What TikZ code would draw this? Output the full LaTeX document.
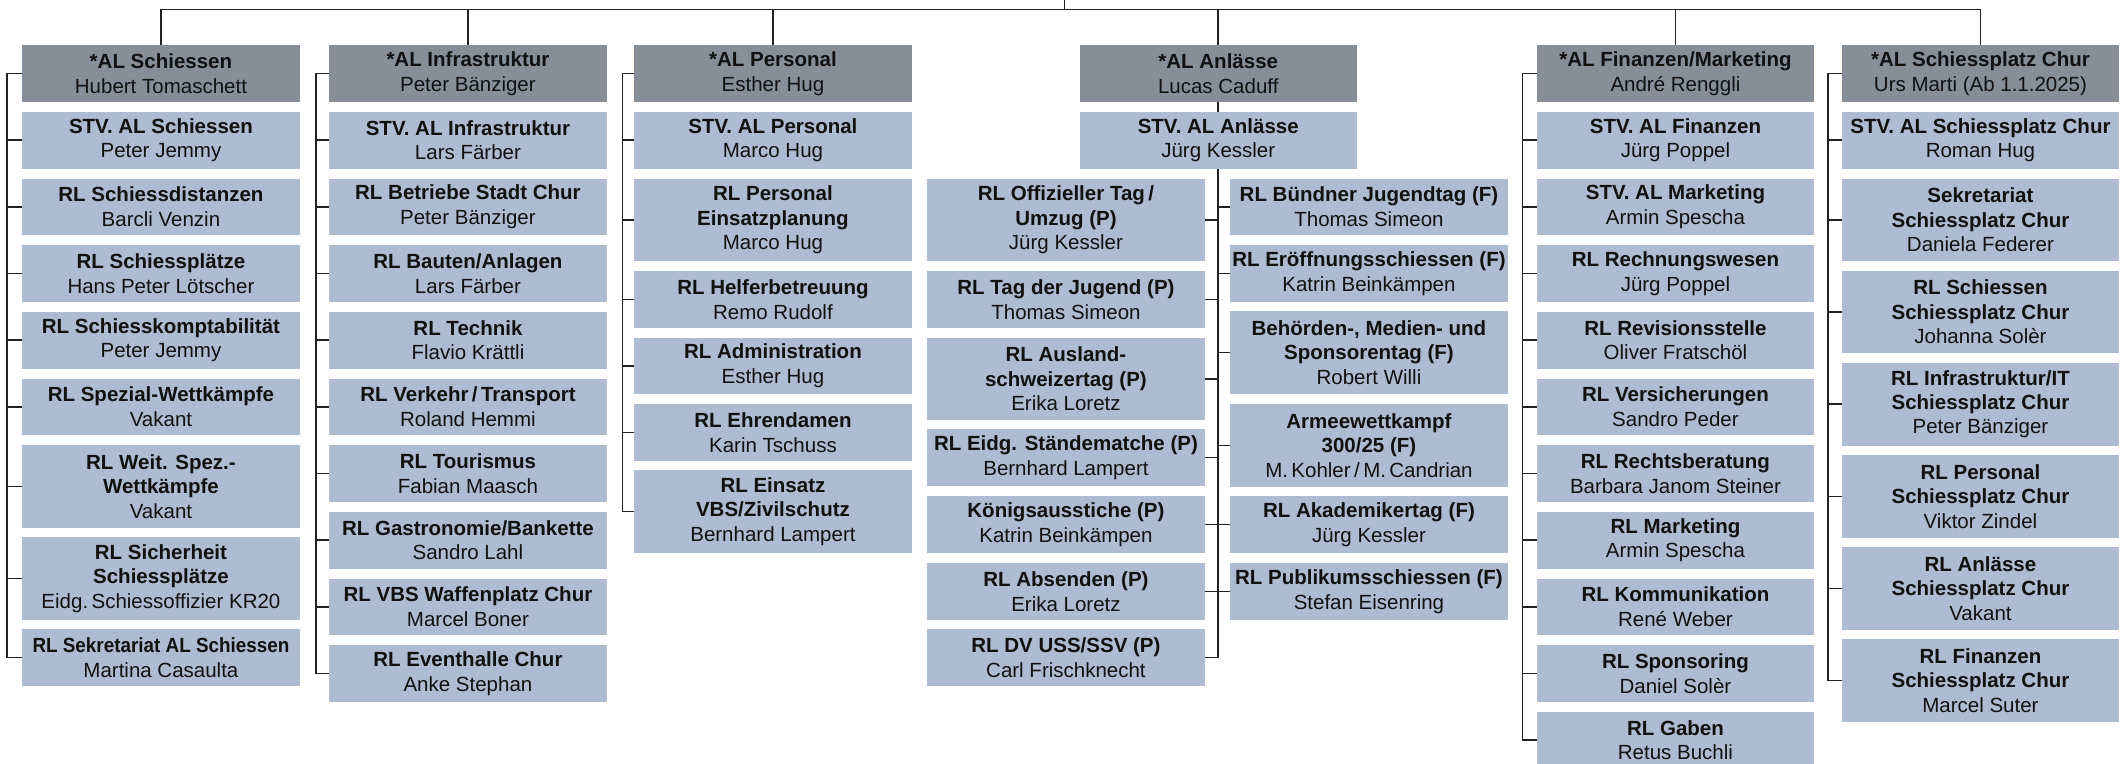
\documentclass[tikz,border=0pt]{standalone}
\usepackage{fontspec}
\usepackage{graphicx}
\setmainfont{Liberation Sans}
\definecolor{headc}{HTML}{868F98}
\definecolor{boxc}{HTML}{ADBCD0}
\definecolor{txt}{HTML}{111111}
\definecolor{linec}{HTML}{222222}
\tikzset{
  box/.style={anchor=north west, inner sep=0pt, minimum width=277.5pt, align=center, text=txt, font=\fontsize{20.5}{24.4}\selectfont},
  head/.style={box, fill=headc, minimum height=56.7pt},
  two/.style={box, fill=boxc, minimum height=56.7pt},
  three/.style={box, fill=boxc, minimum height=82.7pt},
  conn/.style={line width=1.6pt, draw=linec},
}
\begin{document}
\begin{tikzpicture}[x=1pt,y=-1pt]
\useasboundingbox (0,0) rectangle (2125,763);
% ---------- column 1
\node[head] (a1) at (22,45) {\bfseries *AL Schiessen\\Hubert Tomaschett};
\node[two] (a1a) at (22,111.7) {\bfseries STV. AL Schiessen\\Peter Jemmy};
\node[two] (a1b) at (22,178.3) {\bfseries RL Schiessdistanzen\\Barcli Venzin};
\node[two] (a1c) at (22,245) {\bfseries RL Schiessplätze\\Hans Peter Lötscher};
\node[two] (a1d) at (22,311.7) {\bfseries RL Schiesskomptabilität\\Peter Jemmy};
\node[two] (a1e) at (22,378.3) {\bfseries RL Spezial-Wettkämpfe\\Vakant};
\node[three] (a1f) at (22,445) {\bfseries RL Weit. Spez.-\\\bfseries Wettkämpfe\\Vakant};
\node[three] (a1g) at (22,537) {\bfseries RL Sicherheit\\\bfseries Schiessplätze\\Eidg.\,Schiessoffizier KR20};
\node[two] (a1h) at (22,629) {\bfseries\scalebox{0.92}[1]{RL Sekretariat AL Schiessen}\\Martina Casaulta};
% ---------- column 2
\node[head] (a2) at (329,45) {\bfseries *AL Infrastruktur\\Peter Bänziger};
\node[two] (a2a) at (329,111.7) {\bfseries STV. AL Infrastruktur\\Lars Färber};
\node[two] (a2b) at (329,178.3) {\bfseries RL Betriebe Stadt Chur\\Peter Bänziger};
\node[two] (a2c) at (329,245) {\bfseries RL Bauten/Anlagen\\Lars Färber};
\node[two] (a2d) at (329,311.7) {\bfseries RL Technik\\Flavio Krättli};
\node[two] (a2e) at (329,378.3) {\bfseries RL Verkehr\,/\,Transport\\Roland Hemmi};
\node[two] (a2f) at (329,445) {\bfseries RL Tourismus\\Fabian Maasch};
\node[two] (a2g) at (329,511.7) {\bfseries RL Gastronomie/Bankette\\Sandro Lahl};
\node[two] (a2h) at (329,578.3) {\bfseries RL VBS Waffenplatz Chur\\Marcel Boner};
\node[two] (a2i) at (329,645) {\bfseries RL Eventhalle Chur\\Anke Stephan};
% ---------- column 3
\node[head] (a3) at (634,45) {\bfseries *AL Personal\\Esther Hug};
\node[two] (a3a) at (634,111.7) {\bfseries STV. AL Personal\\Marco Hug};
\node[three] (a3b) at (634,178.3) {\bfseries RL Personal\\\bfseries Einsatzplanung\\Marco Hug};
\node[two] (a3c) at (634,271) {\bfseries RL Helferbetreuung\\Remo Rudolf};
\node[two] (a3d) at (634,337.3) {\bfseries RL Administration\\Esther Hug};
\node[two] (a3e) at (634,404) {\bfseries RL Ehrendamen\\Karin Tschuss};
\node[three] (a3f) at (634,470) {\bfseries RL Einsatz\\\bfseries VBS/Zivilschutz\\Bernhard Lampert};
% ---------- column 4 (Anlaesse)
\node[head] (a4) at (1079.3,45) {\bfseries *AL Anlässe\\Lucas Caduff};
\node[two] (a4s) at (1079.3,111.7) {\bfseries STV. AL Anlässe\\Jürg Kessler};
\node[three] (l1) at (927,178.3) {\bfseries RL Offizieller Tag\,/\\\bfseries Umzug (P)\\Jürg Kessler};
\node[two] (l2) at (927,271) {\bfseries RL Tag der Jugend (P)\\Thomas Simeon};
\node[three] (l3) at (927,337.3) {\bfseries RL Ausland-\\\bfseries schweizertag (P)\\Erika Loretz};
\node[two] (l4) at (927,429) {\bfseries RL Eidg. Ständematche (P)\\Bernhard Lampert};
\node[two] (l5) at (927,496) {\bfseries Königsausstiche (P)\\Katrin Beinkämpen};
\node[two] (l6) at (927,563) {\bfseries RL Absenden (P)\\Erika Loretz};
\node[two] (l7) at (927,629) {\bfseries RL DV USS/SSV (P)\\Carl Frischknecht};
\node[two] (r1) at (1230,178.3) {\bfseries RL Bündner Jugendtag (F)\\Thomas Simeon};
\node[two] (r2) at (1230,245) {\bfseries RL Eröffnungsschiessen (F)\\Katrin Beinkämpen};
\node[three] (r3) at (1230,311) {\bfseries Behörden-, Medien- und\\\bfseries Sponsorentag (F)\\Robert Willi};
\node[three] (r4) at (1230,404) {\bfseries Armeewettkampf\\\bfseries 300/25 (F)\\M.\,Kohler\,/\,M.\,Candrian};
\node[two] (r5) at (1230,496) {\bfseries RL Akademikertag (F)\\Jürg Kessler};
\node[two] (r6) at (1230,563) {\bfseries RL Publikumsschiessen (F)\\Stefan Eisenring};
% ---------- column 5
\node[head] (a5) at (1536.5,45) {\bfseries *AL Finanzen/Marketing\\André Renggli};
\node[two] (a5a) at (1536.5,111.7) {\bfseries STV. AL Finanzen\\Jürg Poppel};
\node[two] (a5b) at (1536.5,178.3) {\bfseries STV. AL Marketing\\Armin Spescha};
\node[two] (a5c) at (1536.5,245) {\bfseries RL Rechnungswesen\\Jürg Poppel};
\node[two] (a5d) at (1536.5,311.7) {\bfseries RL Revisionsstelle\\Oliver Fratschöl};
\node[two] (a5e) at (1536.5,378.3) {\bfseries RL Versicherungen\\Sandro Peder};
\node[two] (a5f) at (1536.5,445) {\bfseries RL Rechtsberatung\\Barbara Janom Steiner};
\node[two] (a5g) at (1536.5,511.7) {\bfseries RL Marketing\\Armin Spescha};
\node[two] (a5h) at (1536.5,578.3) {\bfseries RL Kommunikation\\René Weber};
\node[two] (a5i) at (1536.5,645) {\bfseries RL Sponsoring\\Daniel Solèr};
\node[two] (a5j) at (1536.5,711.7) {\bfseries RL Gaben\\Retus Buchli};
% ---------- column 6
\node[head] (a6) at (1841.5,45) {\bfseries *AL Schiessplatz Chur\\Urs Marti (Ab 1.1.2025)};
\node[two] (a6a) at (1841.5,111.7) {\bfseries STV. AL Schiessplatz Chur\\Roman Hug};
\node[three] (a6b) at (1841.5,178.3) {\bfseries Sekretariat\\\bfseries Schiessplatz Chur\\Daniela Federer};
\node[three] (a6c) at (1841.5,270.3) {\bfseries RL Schiessen\\\bfseries Schiessplatz Chur\\Johanna Solèr};
\node[three] (a6d) at (1841.5,362.7) {\bfseries RL Infrastruktur/IT\\\bfseries Schiessplatz Chur\\Peter Bänziger};
\node[three] (a6e) at (1841.5,455) {\bfseries RL Personal\\\bfseries Schiessplatz Chur\\Viktor Zindel};
\node[three] (a6f) at (1841.5,547) {\bfseries RL Anlässe\\\bfseries Schiessplatz Chur\\Vakant};
\node[three] (a6g) at (1841.5,639) {\bfseries RL Finanzen\\\bfseries Schiessplatz Chur\\Marcel Suter};
% ---------- top bus
\coordinate (root) at (1064.6,0);
\coordinate (bus) at (1064.6,9.3);
\draw[conn] (root) -- (bus);
\draw[conn] (a1.north) -- (a1.north |- bus) -- (a6.north |- bus) -- (a6.north);
\foreach \n in {a2,a3,a4,a5} \draw[conn] (\n.north) -- (\n.north |- bus);
% ---------- brackets
\coordinate (k1) at (7,0);
\coordinate (k2) at (316,0);
\coordinate (k3) at (622.5,0);
\coordinate (k5) at (1522.6,0);
\coordinate (k6) at (1828,0);
\draw[conn] (a1.west) -| (k1 |- a1h.west) -- (a1h.west);
\foreach \n in {a1a,a1b,a1c,a1d,a1e,a1f,a1g} \draw[conn] (\n.west) -- (\n.west -| k1);
\draw[conn] (a2.west) -| (k2 |- a2i.west) -- (a2i.west);
\foreach \n in {a2a,a2b,a2c,a2d,a2e,a2f,a2g,a2h} \draw[conn] (\n.west) -- (\n.west -| k2);
\draw[conn] (a3.west) -| (k3 |- a3f.west) -- (a3f.west);
\foreach \n in {a3a,a3b,a3c,a3d,a3e} \draw[conn] (\n.west) -- (\n.west -| k3);
\draw[conn] (a5.west) -| (k5 |- a5j.west) -- (a5j.west);
\foreach \n in {a5a,a5b,a5c,a5d,a5e,a5f,a5g,a5h,a5i} \draw[conn] (\n.west) -- (\n.west -| k5);
\draw[conn] (a6.west) -| (k6 |- a6g.west) -- (a6g.west);
\foreach \n in {a6a,a6b,a6c,a6d,a6e,a6f} \draw[conn] (\n.west) -- (\n.west -| k6);
% ---------- Anlaesse tree
\draw[conn] (a4.south) -- (a4s.north);
\draw[conn] (a4s.south) -- (a4s.south |- l7.east) -- (l7.east);
\foreach \n in {l1,l2,l3,l4,l5,l6} \draw[conn] (\n.east) -- (\n.east -| a4s.south);
\foreach \n in {r1,r2,r3,r4,r5,r6} \draw[conn] (\n.west) -- (\n.west -| a4s.south);
\end{tikzpicture}
\end{document}
